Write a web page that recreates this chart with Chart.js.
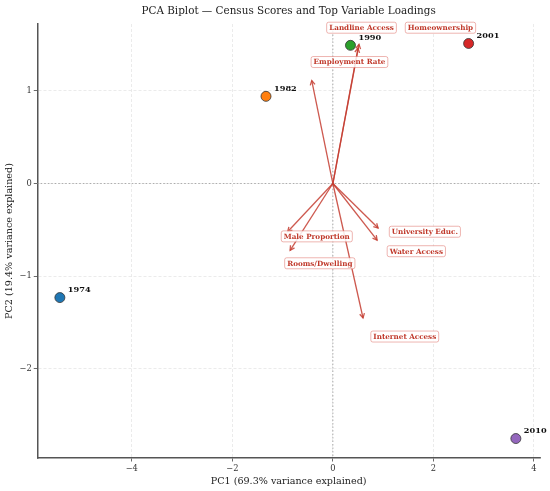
<!DOCTYPE html>
<html>
<head>
<meta charset="utf-8">
<script src="https://cdn.jsdelivr.net/npm/chart.js@4.4.1/dist/chart.umd.min.js"></script>
<style>
html,body{margin:0;padding:0;background:#fff;}
#wrap{width:550px;height:491px;}
</style>
</head>
<body>
<div id="wrap"><canvas id="c"></canvas></div>
<script>
// ---- Data ----
const years = ['1974', '1982', '1990', '2001', '2010'];
const pc1Scores = [-5.43, -1.33, 0.35, 2.70, 3.64];
const pc2Scores = [-1.23, 0.94, 1.49, 1.51, -2.75];
const yearColors = ['#1f77b4', '#ff7f0e', '#2ca02c', '#d62728', '#9467bd'];

const variables = ['Landline Access', 'Homeownership', 'Employment Rate', 'Male Proportion',
                   'Rooms/Dwelling', 'University Educ.', 'Water Access', 'Internet Access'];
const loadPC1 = [0.52, 0.50, -0.42, -0.90, -0.85, 0.90, 0.88, 0.60];
const loadPC2 = [1.50, 1.46, 1.11, -0.52, -0.72, -0.48, -0.61, -1.45];
// label anchor positions (data units, after label repulsion)
const labelPC1 = [0.57, 2.14, 0.33, -0.32, -0.26, 1.83, 1.66, 1.43];
const labelPC2 = [1.68, 1.68, 1.31, -0.57, -0.86, -0.52, -0.73, -1.65];

const xTicks = [-4, -2, 0, 2, 4];
const yTicks = [-2, -1, 0, 1];

const titleText = 'PCA Biplot — Census Scores and Top Variable Loadings';
const SERIF = '"DejaVu Serif", "Liberation Serif", serif';
const arrowColor = 'rgba(196,60,48,0.85)';

const biplotPlugin = {
  id: 'biplot',
  beforeDatasetsDraw(chart) {
    const {ctx, chartArea: a, scales: {x, y}} = chart;
    ctx.save();
    ctx.beginPath();
    ctx.rect(a.left, a.top, a.right - a.left, a.bottom - a.top);
    ctx.clip();
    // zero reference lines
    ctx.strokeStyle = '#9a9a9a';
    ctx.lineWidth = 0.8;
    ctx.setLineDash([1.5, 2]);
    const x0 = x.getPixelForValue(0), y0 = y.getPixelForValue(0);
    ctx.beginPath(); ctx.moveTo(x0, a.top); ctx.lineTo(x0, a.bottom); ctx.stroke();
    ctx.beginPath(); ctx.moveTo(a.left, y0); ctx.lineTo(a.right, y0); ctx.stroke();
    ctx.setLineDash([]);
    // arrows
    ctx.strokeStyle = arrowColor;
    ctx.lineWidth = 1.3;
    for (let i = 0; i < variables.length; i++) {
      const tx = x.getPixelForValue(loadPC1[i]);
      const ty = y.getPixelForValue(loadPC2[i]);
      ctx.beginPath(); ctx.moveTo(x0, y0); ctx.lineTo(tx, ty); ctx.stroke();
      const ang = Math.atan2(ty - y0, tx - x0);
      const hl = 5, hw = 0.5;
      ctx.beginPath();
      ctx.moveTo(tx - hl * Math.cos(ang - hw), ty - hl * Math.sin(ang - hw));
      ctx.lineTo(tx, ty);
      ctx.lineTo(tx - hl * Math.cos(ang + hw), ty - hl * Math.sin(ang + hw));
      ctx.stroke();
    }
    ctx.restore();
  },
  afterDatasetsDraw(chart) {
    const {ctx, chartArea: a, scales: {x, y}} = chart;
    ctx.save();
    // title centred over the axes
    ctx.font = '10.4px ' + SERIF;
    ctx.fillStyle = '#222';
    ctx.textAlign = 'center';
    ctx.textBaseline = 'middle';
    ctx.fillText(titleText, (a.left + a.right) / 2, 11.5);
    // variable labels
    ctx.font = 'bold 7.2px ' + SERIF;
    for (let i = 0; i < variables.length; i++) {
      const cx = x.getPixelForValue(labelPC1[i]);
      const cy = y.getPixelForValue(labelPC2[i]);
      const w = ctx.measureText(variables[i]).width + 5;
      const h = 11;
      ctx.beginPath();
      if (ctx.roundRect) ctx.roundRect(cx - w / 2, cy - h / 2, w, h, 2);
      else ctx.rect(cx - w / 2, cy - h / 2, w, h);
      ctx.fillStyle = 'rgba(255,255,255,0.85)';
      ctx.fill();
      ctx.strokeStyle = 'rgba(220,100,90,0.6)';
      ctx.lineWidth = 0.8;
      ctx.stroke();
      ctx.fillStyle = '#c0392b';
      ctx.fillText(variables[i], cx, cy + 0.5);
    }
    // year labels
    ctx.font = 'bold 8.2px ' + SERIF;
    ctx.textAlign = 'left';
    ctx.fillStyle = '#111';
    for (let i = 0; i < years.length; i++) {
      const px = x.getPixelForValue(pc1Scores[i]);
      const py = y.getPixelForValue(pc2Scores[i]);
      ctx.fillText(years[i], px + 8, py - 7.5);
    }
    ctx.restore();
  }
};

const points = years.map((yr, i) => ({x: pc1Scores[i], y: pc2Scores[i]}));
const minusFmt = (v) => (v < 0 ? '\u2212' + Math.abs(v) : String(v));

new Chart(document.getElementById('c'), {
  type: 'scatter',
  data: {
    datasets: [{
      label: 'Census years',
      data: points,
      backgroundColor: yearColors,
      borderColor: '#333',
      borderWidth: 0.8,
      pointRadius: 5,
      pointHoverRadius: 5
    }]
  },
  options: {
    responsive: true,
    maintainAspectRatio: false,
    animation: false,
    devicePixelRatio: 1,
    layout: {padding: {left: 4, right: 10, top: 24, bottom: 4}},
    plugins: {
      legend: {display: false},
      tooltip: {enabled: false},
      title: {display: false}
    },
    scales: {
      x: {
        type: 'linear',
        min: -5.88, max: 4.12,
        afterBuildTicks: (s) => { s.ticks = xTicks.map(v => ({value: v})); },
        ticks: {color: '#333', font: {family: SERIF, size: 8.3}, padding: 2, callback: minusFmt},
        grid: {color: '#e2e2e2', lineWidth: 0.7, drawTicks: true, tickLength: 3.5,
               tickColor: '#444', tickWidth: 0.8},
        border: {display: true, color: '#555', width: 1.5, dash: [3, 2]},
        title: {display: true, text: 'PC1 (69.3% variance explained)', color: '#222',
                font: {family: SERIF, size: 9.6}, padding: {top: 0, bottom: 0}}
      },
      y: {
        type: 'linear',
        min: -2.96, max: 1.72,
        afterBuildTicks: (s) => { s.ticks = yTicks.map(v => ({value: v})); },
        ticks: {color: '#333', font: {family: SERIF, size: 8.3}, padding: 2, callback: minusFmt},
        grid: {color: '#e2e2e2', lineWidth: 0.7, drawTicks: true, tickLength: 3.5,
               tickColor: '#444', tickWidth: 0.8},
        border: {display: true, color: '#555', width: 1.5, dash: [3, 2]},
        title: {display: true, text: 'PC2 (19.4% variance explained)', color: '#222',
                font: {family: SERIF, size: 9.6}, padding: {top: 0, bottom: 2}}
      }
    }
  },
  plugins: [biplotPlugin]
});
</script>
</body>
</html>
